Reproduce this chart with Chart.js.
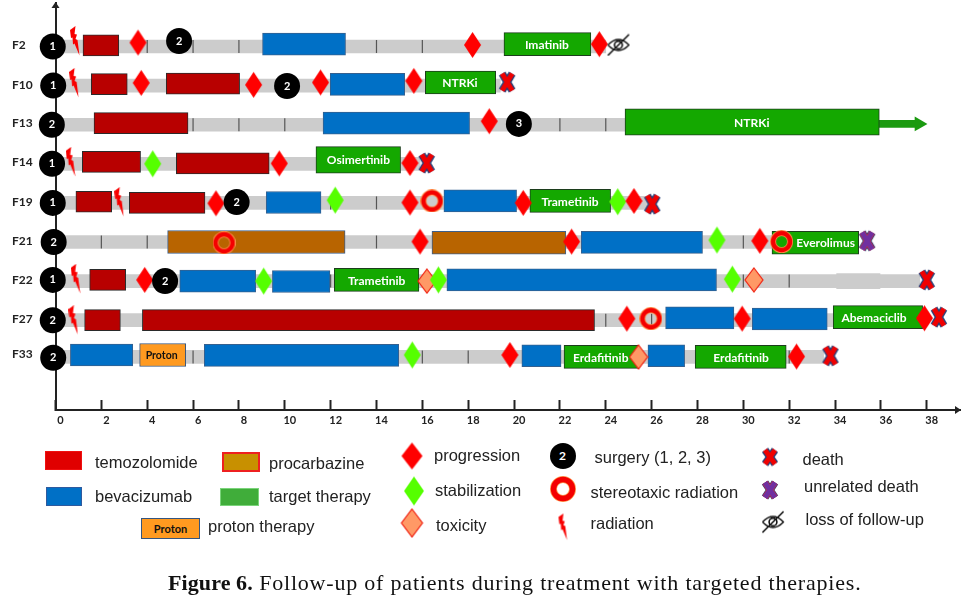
<!DOCTYPE html>
<html>
<head>
<meta charset="utf-8">
<title>Figure 6</title>
<script src="https://cdn.jsdelivr.net/npm/chart.js@4/dist/chart.umd.min.js"></script>
<style>
  html, body { margin: 0; padding: 0; background: #fff; }
  #page { position: relative; width: 973px; height: 607px; overflow: hidden; }
  #chart { position: absolute; left: 0; top: 0; }
  .leg { position: absolute; font: 16.5px "Liberation Sans", Arial, sans-serif; color: #222; white-space: nowrap; transform: translateY(-50%); }
  .icon { position: absolute; transform: translate(-50%, -50%); display: block; }
  .swatch { position: absolute; box-sizing: border-box; }
  #proton { font: bold 11px Lato, sans-serif; color: #111; text-align: center; line-height: 19px; }
  #surgeryIcon { border-radius: 50%; width: 26px; height: 26px; background: #000; color: #fff; font: bold 12px Lato, sans-serif; text-align: center; line-height: 26px; }
  #caption { position: absolute; left: 168px; top: 570px; font: 22px "Liberation Serif", serif; letter-spacing: 0.8px; color: #111; white-space: nowrap; }
  #caption b { letter-spacing: 0.1px; }
</style>
</head>
<body>
<div id="page">
  <canvas id="chart" width="973" height="607"></canvas>
  <div id="caption"><b>Figure 6.</b> Follow-up of patients during treatment with targeted therapies.</div>
</div>
<script>
// ===================================
// Data. Months on x, row number on y (F2 = 0, F10 = 1, ...)
// ===================================
const rowNames = ['F2', 'F10', 'F13', 'F14', 'F19', 'F21', 'F22', 'F27', 'F33'];
const rowPositions = [-0.04, 0.98, 1.96, 2.96, 3.97, 4.98, 5.97, 6.97, 7.88];
const monthTicks = [0, 2, 4, 6, 8, 10, 12, 14, 16, 18, 20, 22, 24, 26, 28, 30, 32, 34, 36, 38];

// [row, start, end]
const followUp = [[0, 0, 24], [1, 0, 19.4], [2, 0, 24.9], [3, 0, 15.9], [4, 0, 26], [5, 0, 31.3], [6, 0, 37.7], [7, 0, 37.5], [7.94, 0, 33.5]];
const followUpWide = [[6, 34.07, 35.96]];
const temozolomide = [[-0.03, 1.2, 2.76], [0.96, 1.56, 3.13], [0.95, 4.83, 8.03], [1.96, 1.68, 5.78], [2.95, 1.17, 3.71], [2.99, 5.27, 9.32], [3.97, 0.89, 2.45], [4, 3.22, 6.52], [5.97, 1.49, 3.06], [7, 1.27, 2.83], [7, 3.79, 23.51]];
const bevacizumab = [[-0.06, 9.03, 12.65], [0.97, 11.98, 15.23], [1.96, 11.67, 18.06], [3.99, 9.19, 11.58], [3.95, 16.94, 20.11], [5.01, 22.93, 28.22], [6, 5.42, 8.73], [6.01, 9.46, 11.97], [5.97, 17.07, 28.83], [6.94, 26.61, 29.59], [6.97, 30.39, 33.66], [7.89, 0.65, 3.37], [7.9, 6.49, 14.97], [7.91, 20.34, 22.05], [7.91, 25.84, 27.44]];
const procarbazine = [[5, 4.89, 12.63], [5.02, 16.42, 22.26]];
const targetTherapy = [[-0.06, 19.56, 23.35], [0.92, 16.13, 19.2], [3.95, 20.69, 24.21], [5.02, 31.25, 35.03], [5.97, 12.16, 15.85], [6.92, 33.92, 37.82], [7.94, 22.18, 25.42], [7.94, 27.9, 31.87]];
const targetTherapyLong = [[1.93, 24.84, 35.93], [2.9, 11.36, 15.05]];
const protonTherapy = [[7.89, 3.67, 5.68]];
const ongoing = [[1.98, 35.8, 37.5]];
const ongoingHead = [[1.98, 37.66]];

// [row, month]
const trackTicks = [[0, 4], [0, 6], [0, 8], [0, 14], [0, 16], [2, 6], [2, 8], [2, 10], [2, 22], [2, 24], [4, 12], [4, 14], [5, 2], [5, 4], [5, 14], [5, 30], [6, 12], [6, 30], [6, 32], [7, 24], [7, 26], [7.94, 6], [7.94, 16], [7.94, 18], [7.94, 32]];
const progression = [[-0.1, 3.6], [-0.04, 18.19], [-0.06, 23.72], [0.93, 3.74], [0.98, 8.64], [0.92, 11.56], [0.88, 15.63], [1.91, 18.92], [2.99, 9.76], [2.98, 15.46], [4.01, 7], [3.99, 15.46], [4, 20.4], [3.95, 25.23], [4.99, 15.9], [4.99, 22.51], [4.97, 30.72], [5.97, 3.89], [6.96, 24.92], [6.96, 29.95], [6.95, 37.9], [7.89, 19.82], [7.93, 32.32]];
const stabilization = [[3, 4.24], [3.93, 12.2], [3.97, 24.52], [4.95, 28.85], [6, 9.08], [5.97, 16.7], [5.95, 29.52], [7.89, 15.56]];
const toxicity = [[6, 16.2], [5.97, 30.46], [7.94, 25.43]];
const stereotaxic = [[3.95, 16.42], [5.02, 7.35], [4.99, 31.67], [6.96, 25.97]];
const radiation = [[-0.14, 0.85], [0.93, 0.81], [2.95, 0.66], [3.98, 2.78], [5.94, 0.88], [7, 0.78]];
const death = [[0.91, 19.7], [2.98, 16.19], [4.03, 26.03], [5.97, 38], [6.92, 38.53], [7.91, 33.8]];
const unrelatedDeath = [[4.97, 35.4]];
const lossOfFollowUp = [[-0.04, 24.55]];

// [row, month, surgery number]
const surgery = [[0, -0.12, 1], [1, -0.1, 1], [2, -0.16, 2], [3, -0.15, 1], [4, -0.12, 1], [5, -0.08, 2], [5.97, -0.12, 1], [7, -0.12, 2], [7.96, -0.1, 2], [-0.14, 5.39, 2], [1.01, 10.1, 2], [1.98, 20.21, 3], [3.98, 7.9, 2], [6, 4.78, 2]];

// [text, row, month]
const barLabels = [['Imatinib', -0.04, 21.43], ['NTRKi', 0.94, 17.64], ['NTRKi', 1.96, 30.37], ['Osimertinib', 2.9, 13.21], ['Trametinib', 3.97, 22.44], ['Everolimus', 5.03, 33.59], ['Trametinib', 6, 14.01], ['Abemaciclib', 6.95, 35.7], ['Erdafitinib', 7.96, 23.78], ['Erdafitinib', 7.96, 29.9]];
const protonLabels = [['Proton', 7.91, 4.63]];

// ===================================
// Marker shapes
// ===================================
function newCanvas(w, h) {
  const c = document.createElement('canvas');
  c.width = w;
  c.height = h;
  return c;
}

function diamond(w, h, fill, stroke) {
  const c = newCanvas(w + 2, h + 2);
  const ctx = c.getContext('2d');
  ctx.beginPath();
  ctx.moveTo(w / 2 + 1, 1);
  ctx.lineTo(w + 1, h / 2 + 1);
  ctx.lineTo(w / 2 + 1, h + 1);
  ctx.lineTo(1, h / 2 + 1);
  ctx.closePath();
  ctx.fillStyle = fill;
  ctx.fill();
  if (stroke) {
    ctx.strokeStyle = stroke;
    ctx.lineWidth = 1.2;
    ctx.stroke();
  }
  return c;
}

function ring(size, hole) {
  const c = newCanvas(size, size);
  const ctx = c.getContext('2d');
  const w = (size - hole) / 2;
  const r = (size + hole) / 4;
  ctx.beginPath();
  ctx.arc(size / 2, size / 2, r, 0, Math.PI * 2);
  ctx.lineWidth = w;
  ctx.strokeStyle = '#ff9a50';
  ctx.stroke();
  ctx.lineWidth = w - 1.6;
  ctx.strokeStyle = '#f40000';
  ctx.stroke();
  return c;
}

function bolt(scale) {
  const c = newCanvas(Math.ceil(10 * scale), Math.ceil(30 * scale));
  const ctx = c.getContext('2d');
  ctx.scale(scale, scale);
  const pts = [[0, 4], [5.5, 0], [4.5, 8], [7, 8.5], [5.5, 13], [7.5, 14], [9.5, 29.5], [4.5, 17.5], [3, 18.5], [2.5, 11.5], [1, 12]];
  ctx.beginPath();
  pts.forEach((p, i) => (i ? ctx.lineTo(p[0], p[1]) : ctx.moveTo(p[0], p[1])));
  ctx.closePath();
  ctx.fillStyle = '#f80000';
  ctx.fill();
  return c;
}

// w, h are the outer size of the X
function cross(w, h, fill, rim) {
  const c = newCanvas(w + 2, h + 2);
  const ctx = c.getContext('2d');
  const draw = (lw, color) => {
    ctx.lineWidth = lw;
    ctx.strokeStyle = color;
    ctx.beginPath();
    ctx.moveTo(4, 3.5);
    ctx.lineTo(w - 2, h - 1.5);
    ctx.moveTo(w - 2, 3.5);
    ctx.lineTo(4, h - 1.5);
    ctx.stroke();
  };
  draw(7.6, '#23407a');
  if (rim) draw(6.2, rim);
  draw(5, fill);
  return c;
}

function eye(w, h) {
  const c = newCanvas(w, h);
  const ctx = c.getContext('2d');
  ctx.strokeStyle = '#111';
  ctx.fillStyle = '#111';
  ctx.lineWidth = 1.3;
  ctx.beginPath();
  ctx.moveTo(1.5, h / 2);
  ctx.quadraticCurveTo(w / 2, h * 0.02, w - 1.5, h / 2);
  ctx.quadraticCurveTo(w / 2, h * 0.98, 1.5, h / 2);
  ctx.stroke();
  ctx.beginPath();
  ctx.arc(w / 2, h / 2, h * 0.17, 0, Math.PI * 2);
  ctx.lineWidth = 1.6;
  ctx.stroke();
  ctx.lineWidth = 1.6;
  ctx.beginPath();
  ctx.moveTo(w * 0.06, h - 1);
  ctx.lineTo(w * 0.94, 1);
  ctx.stroke();
  return c;
}

// ===================================
// Datasets
// ===================================
function barSet(label, list, color, border, thickness, order, borderWidth = 1) {
  return {
    type: 'bar',
    label,
    data: list.map(d => ({ y: d[0], x: [d[1], d[2]] })),
    backgroundColor: color,
    borderColor: border,
    borderWidth,
    borderSkipped: false,
    barThickness: thickness,
    grouped: false,
    order,
    clip: false
  };
}

function markerSet(label, list, style, order, extra = {}) {
  return {
    type: 'scatter',
    label,
    data: list.map(d => ({ y: d[0], x: d[1] })),
    pointStyle: style,
    pointRadius: 6,
    order,
    clip: false,
    ...extra
  };
}

const datasets = [
  barSet('follow-up', followUp, '#cccccc', '#cccccc', 13, 100, 0),
  barSet('follow-up wide', followUpWide, '#cccccc', '#cccccc', 15, 99, 0),
  markerSet('track ticks', trackTicks, 'line', 90, { pointRadius: 6.5, rotation: 90, pointBorderColor: '#555555', pointBorderWidth: 1.2 }),
  barSet('ongoing', ongoing, '#1b9a10', '#1b9a10', 7, 60, 0),
  markerSet('ongoing head', ongoingHead, 'triangle', 60, { pointRadius: 8.5, rotation: 90, pointBackgroundColor: '#1b9a10', pointBorderColor: '#1b9a10', pointBorderWidth: 0 }),
  barSet('temozolomide', temozolomide, '#b80000', '#2a2a2a', 21, 50),
  barSet('bevacizumab', bevacizumab, '#0070c6', '#35608f', 22, 50),
  barSet('procarbazine', procarbazine, '#b86400', '#3c5f8c', 23, 50),
  barSet('target therapy', targetTherapy, '#14a800', '#1c3d1c', 23, 50),
  barSet('target therapy long', targetTherapyLong, '#14a800', '#1c3d1c', 26.5, 50),
  barSet('proton therapy', protonTherapy, '#ff9a20', '#35557f', 23, 50),
  markerSet('toxicity', toxicity, diamond(18, 24, '#ff9966', '#f02010'), 22),
  markerSet('stabilization', stabilization, diamond(17, 27, '#55ff00'), 21),
  markerSet('progression', progression, diamond(17, 26, '#ff0000'), 20),
  markerSet('stereotaxic radiation', stereotaxic, ring(23, 11), 19),
  markerSet('radiation', radiation, bolt(1), 19),
  markerSet('death', death, cross(16, 22, '#f00000'), 18),
  markerSet('unrelated death', unrelatedDeath, cross(16, 22, '#7030a0', '#d02c3c'), 18),
  markerSet('loss of follow-up', lossOfFollowUp, eye(24, 23), 18),
  markerSet('surgery', surgery, 'circle', 10, { pointRadius: 13, pointBackgroundColor: '#000000', pointBorderColor: '#000000', pointBorderWidth: 0 })
];

// Text on the bars and surgery circles, arrowheads of the two axes
const annotationPlugin = {
  id: 'annotations',
  afterDatasetsDraw(chart) {
    const { ctx, scales: { x, y }, chartArea } = chart;
    ctx.save();
    ctx.textAlign = 'center';
    ctx.textBaseline = 'middle';
    ctx.font = 'bold 12px Lato, sans-serif';
    ctx.fillStyle = '#ffffff';
    barLabels.forEach(d => ctx.fillText(d[0], x.getPixelForValue(d[2]), y.getPixelForValue(d[1])));
    ctx.font = 'bold 10.5px Lato, sans-serif';
    ctx.fillStyle = '#111111';
    protonLabels.forEach(d => ctx.fillText(d[0], x.getPixelForValue(d[2]), y.getPixelForValue(d[1])));
    ctx.font = 'bold 11px Lato, sans-serif';
    ctx.fillStyle = '#ffffff';
    surgery.forEach(d => ctx.fillText(d[2], x.getPixelForValue(d[1]), y.getPixelForValue(d[0])));

    ctx.fillStyle = '#222222';
    ctx.beginPath();
    ctx.moveTo(chartArea.left - 4, chartArea.top + 5);
    ctx.lineTo(chartArea.left, chartArea.top - 1);
    ctx.lineTo(chartArea.left + 4, chartArea.top + 5);
    ctx.closePath();
    ctx.fill();
    ctx.beginPath();
    ctx.moveTo(chartArea.right - 5, chartArea.bottom - 4);
    ctx.lineTo(chartArea.right + 1, chartArea.bottom);
    ctx.lineTo(chartArea.right - 5, chartArea.bottom + 4);
    ctx.closePath();
    ctx.fill();
    ctx.restore();
  }
};

new Chart(document.getElementById('chart'), {
  type: 'bar',
  data: { datasets },
  options: {
    responsive: false,
    animation: false,
    indexAxis: 'y',
    layout: { autoPadding: false, padding: { left: 12, top: 3, right: 13, bottom: 0 } },
    plugins: { legend: { display: false }, tooltip: { enabled: false } },
    events: [],
    scales: {
      x: {
        type: 'linear',
        position: 'bottom',
        min: 0,
        max: 39.45,
        afterFit: axis => {
          axis.height = 197;
          axis.paddingLeft = 0;
          axis.paddingRight = 0;
        },
        afterBuildTicks: axis => { axis.ticks = monthTicks.map(value => ({ value })); },
        border: { color: '#222222', width: 2 },
        grid: { drawOnChartArea: false, tickLength: -10, tickWidth: 2, tickColor: '#222222' },
        ticks: {
          autoSkip: false,
          maxRotation: 0,
          padding: 14,
          labelOffset: 5,
          color: '#222222',
          font: { family: 'Lato', size: 11, weight: 'bold' }
        }
      },
      y: {
        type: 'linear',
        reverse: true,
        offset: false,
        min: -1.113,
        max: 9.297,
        afterFit: axis => {
          axis.width = 43.5;
          axis.paddingTop = 0;
          axis.paddingBottom = 0;
        },
        afterBuildTicks: axis => { axis.ticks = rowPositions.map(value => ({ value })); },
        border: { color: '#222222', width: 2 },
        grid: { display: false, drawTicks: false, offset: false },
        ticks: {
          autoSkip: false,
          crossAlign: 'far',
          padding: 0,
          color: '#222222',
          font: { family: 'Lato', size: 12, weight: 'bold' },
          callback: (value, index) => rowNames[index]
        }
      }
    }
  },
  plugins: [annotationPlugin]
});

// ===================================
// Hand placed legend, same shapes as in the chart
// ===================================
const legendTexts = [
  ['temozolomide', 95, 461.5], ['bevacizumab', 95, 495.5], ['procarbazine', 269, 463], ['target therapy', 269, 496],
  ['proton therapy', 208, 525.5], ['progression', 434, 455], ['stabilization', 435, 490], ['toxicity', 436, 525],
  ['surgery (1, 2, 3)', 594.5, 457], ['stereotaxic radiation', 590.5, 491.5], ['radiation', 590.5, 523],
  ['death', 802.5, 459], ['unrelated death', 804, 486], ['loss of follow-up', 805.5, 519]
];
const legendSwatches = [
  [45, 451, 37, 19, '#e00000', '1px solid #f01010'],
  [46, 487, 36, 19, '#0070c6', '1px solid #2f5a9e'],
  [222, 452, 38, 20, '#c89000', '2px solid #ee2020'],
  [220, 488, 39, 18, '#40ad3a', '1px solid #7ad47a']
];
const legendIcons = [
  [diamond(21, 27, '#ff0000'), 412, 456],
  [diamond(20, 29, '#55ff00'), 414, 491],
  [diamond(21, 28, '#ff9966', '#f02010'), 412, 523],
  [ring(26, 12), 563, 489],
  [bolt(0.9), 563, 526.5],
  [cross(16, 19, '#f00000'), 770, 457],
  [cross(16, 20, '#7030a0', '#d02c3c'), 770, 490],
  [eye(24, 23), 773, 522]
];

const page = document.getElementById('page');

legendTexts.forEach(([text, left, top]) => {
  const el = document.createElement('div');
  el.className = 'leg';
  el.textContent = text;
  el.style.left = left + 'px';
  el.style.top = top + 'px';
  page.appendChild(el);
});

legendSwatches.forEach(([left, top, w, h, color, border]) => {
  const el = document.createElement('div');
  el.className = 'swatch';
  el.style.cssText += `left:${left}px;top:${top}px;width:${w}px;height:${h}px;background:${color};border:${border}`;
  page.appendChild(el);
});

legendIcons.forEach(([canvas, left, top]) => {
  canvas.className = 'icon';
  canvas.style.left = left + 'px';
  canvas.style.top = top + 'px';
  page.appendChild(canvas);
});

const proton = document.createElement('div');
proton.id = 'proton';
proton.className = 'swatch';
proton.textContent = 'Proton';
proton.style.cssText += 'left:141px;top:518px;width:59px;height:21px;background:#ff9a20;border:1px solid #35557f';
page.appendChild(proton);

const surgeryIcon = document.createElement('div');
surgeryIcon.id = 'surgeryIcon';
surgeryIcon.className = 'icon';
surgeryIcon.textContent = '2';
surgeryIcon.style.left = '562.5px';
surgeryIcon.style.top = '456px';
page.appendChild(surgeryIcon);
</script>
</body>
</html>
